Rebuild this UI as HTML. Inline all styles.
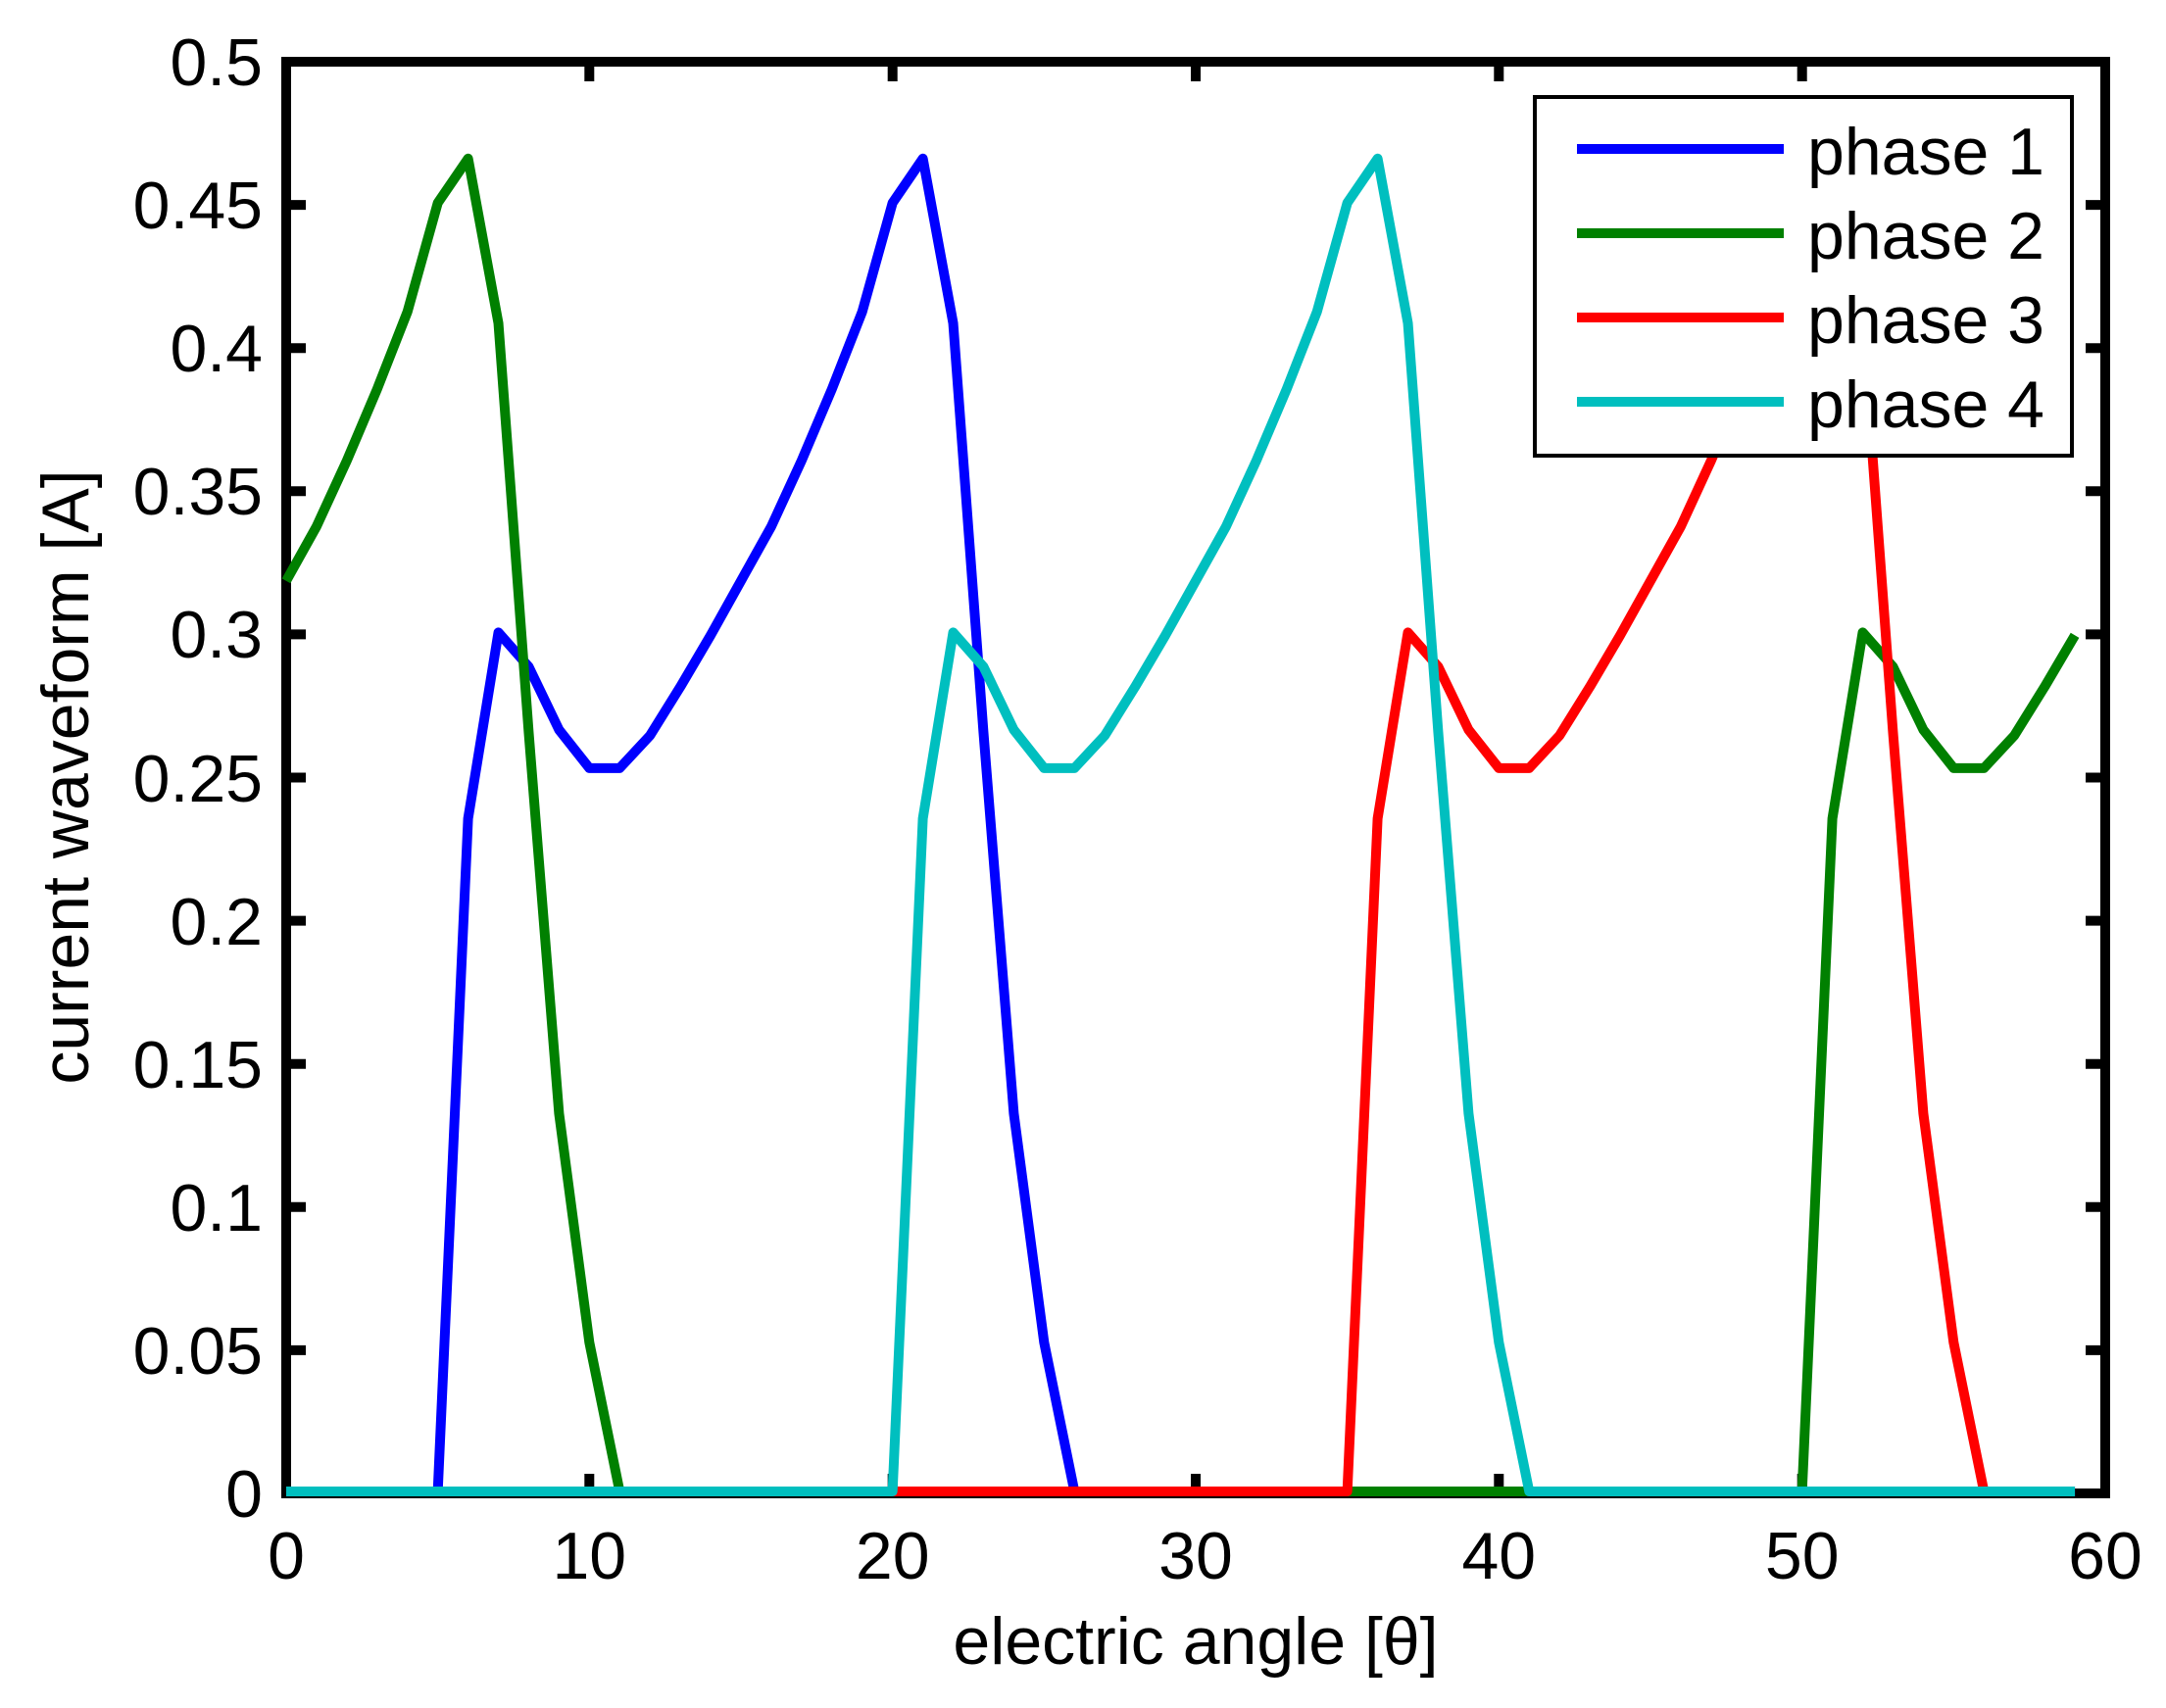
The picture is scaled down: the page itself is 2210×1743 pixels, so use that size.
<!DOCTYPE html>
<html><head><meta charset="utf-8"><style>html,body{margin:0;padding:0;background:#fff}svg{display:block}</style></head>
<body>
<svg width="2210" height="1743" xmlns="http://www.w3.org/2000/svg" font-family="Liberation Sans, Arial, sans-serif">
<rect width="2210" height="1743" fill="#fff"/>
<rect x="292" y="63" width="1856" height="1461" fill="none" stroke="#000" stroke-width="10"/>
<g stroke="#000" stroke-width="10">
<path d="M601.3,1524v-20M910.7,1524v-20M1220,1524v-20M1529.3,1524v-20M1838.7,1524v-20M601.3,63v20M910.7,63v20M1220,63v20M1529.3,63v20M1838.7,63v20"/>
<path d="M292,1377.9h20M292,1231.8h20M292,1085.7h20M292,939.6h20M292,793.5h20M292,647.4h20M292,501.3h20M292,355.2h20M292,209.1h20M2148,1377.9h-20M2148,1231.8h-20M2148,1085.7h-20M2148,939.6h-20M2148,793.5h-20M2148,647.4h-20M2148,501.3h-20M2148,355.2h-20M2148,209.1h-20"/>
</g>
<g transform="translate(292,1522) scale(30.9333,-2922)" fill="none" stroke-width="10" stroke-linejoin="round">
<polyline vector-effect="non-scaling-stroke" stroke="#0000ff" points="0,0 5,0 6,0.235 7,0.3 8,0.288 9,0.266 10,0.2526 11,0.2526 12,0.264 13,0.281 14,0.299 15,0.318 16,0.337 17,0.36 18,0.385 19,0.412 20,0.45 21,0.4655 22,0.408 23,0.265 24,0.132 25,0.052 26,0 59,0"/>
<polyline vector-effect="non-scaling-stroke" stroke="#008000" points="0,0.318 1,0.337 2,0.36 3,0.385 4,0.412 5,0.45 6,0.4655 7,0.408 8,0.265 9,0.132 10,0.052 11,0 50,0 51,0.235 52,0.3 53,0.288 54,0.266 55,0.2526 56,0.2526 57,0.264 58,0.281 59,0.299"/>
<polyline vector-effect="non-scaling-stroke" stroke="#ff0000" points="0,0 35,0 36,0.235 37,0.3 38,0.288 39,0.266 40,0.2526 41,0.2526 42,0.264 43,0.281 44,0.299 45,0.318 46,0.337 47,0.36 48,0.385 49,0.412 50,0.45 51,0.4655 52,0.408 53,0.265 54,0.132 55,0.052 56,0 59,0"/>
<polyline vector-effect="non-scaling-stroke" stroke="#00bfbf" points="0,0 20,0 21,0.235 22,0.3 23,0.288 24,0.266 25,0.2526 26,0.2526 27,0.264 28,0.281 29,0.299 30,0.318 31,0.337 32,0.36 33,0.385 34,0.412 35,0.45 36,0.4655 37,0.408 38,0.265 39,0.132 40,0.052 41,0 59,0"/>
</g>
<g font-size="68" fill="#000" text-anchor="end">
<text x="268" y="1548">0</text>
<text x="268" y="1402">0.05</text>
<text x="268" y="1256">0.1</text>
<text x="268" y="1110">0.15</text>
<text x="268" y="964">0.2</text>
<text x="268" y="818">0.25</text>
<text x="268" y="671">0.3</text>
<text x="268" y="525">0.35</text>
<text x="268" y="379">0.4</text>
<text x="268" y="233">0.45</text>
<text x="268" y="87">0.5</text>
</g>
<g font-size="68" fill="#000" text-anchor="middle">
<text x="292" y="1611">0</text>
<text x="601.3" y="1611">10</text>
<text x="910.7" y="1611">20</text>
<text x="1220" y="1611">30</text>
<text x="1529.3" y="1611">40</text>
<text x="1838.7" y="1611">50</text>
<text x="2148" y="1611">60</text>
<text x="1220" y="1698">electric angle [θ]</text>
<text transform="translate(90,793) rotate(-90)">current waveform [A]</text>
</g>
<rect x="1566" y="99" width="548" height="366" fill="#fff" stroke="#000" stroke-width="4"/>
<g stroke-width="10">
<line x1="1609" y1="152" x2="1820" y2="152" stroke="#0000ff"/>
<line x1="1609" y1="238" x2="1820" y2="238" stroke="#008000"/>
<line x1="1609" y1="324" x2="1820" y2="324" stroke="#ff0000"/>
<line x1="1609" y1="410" x2="1820" y2="410" stroke="#00bfbf"/>
</g>
<g font-size="68" fill="#000">
<text x="1844" y="178">phase 1</text>
<text x="1844" y="264">phase 2</text>
<text x="1844" y="350">phase 3</text>
<text x="1844" y="436">phase 4</text>
</g>
</svg>
</body></html>
